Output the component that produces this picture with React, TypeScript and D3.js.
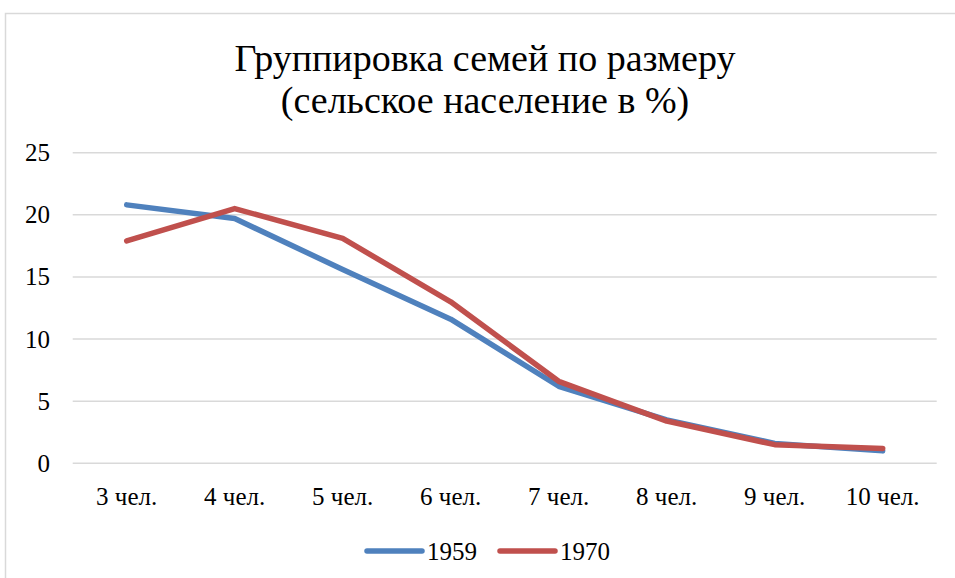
import React, { useEffect, useRef } from "react";
import * as d3 from "d3";

// ── Данные ─────────────────────────────────────────────────────────────
const categories = ["3 чел.", "4 чел.", "5 чел.", "6 чел.", "7 чел.", "8 чел.", "9 чел.", "10 чел."];
const values1959 = [20.8, 19.7, 15.6, 11.6, 6.2, 3.5, 1.6, 1.0];
const values1970 = [17.9, 20.5, 18.1, 13.0, 6.6, 3.4, 1.5, 1.2];
const yTicks = [0, 5, 10, 15, 20, 25];
const titleLines = ["Группировка семей по размеру", "(сельское население в %)"];

const series = [
    { name: "1959", values: values1959, color: "#4f81bd" },
    { name: "1970", values: values1970, color: "#c0504d" },
];

const FONT = "'Times New Roman', 'Liberation Serif', Times, serif";

const App: React.FC = () => {
    const svgRef = useRef<SVGSVGElement | null>(null);

    useEffect(() => {
        if (!svgRef.current) return;

        const WIDTH = 955;
        const HEIGHT = 578;
        const plot = { left: 72.7, right: 936.7, top: 152.7, bottom: 463.3 };

        const svg = d3.select(svgRef.current);
        svg.selectAll("*").remove();
        svg.attr("width", WIDTH).attr("height", HEIGHT).attr("viewBox", `0 0 ${WIDTH} ${HEIGHT}`)
            .style("font-family", FONT);

        svg.append("rect").attr("width", WIDTH).attr("height", HEIGHT).attr("fill", "#fff");

        // рамка области диаграммы (правый и нижний край обрезаны)
        svg.append("rect")
            .attr("x", 5.5).attr("y", 13.5)
            .attr("width", WIDTH + 20).attr("height", HEIGHT + 20)
            .attr("fill", "none").attr("stroke", "#d9d9d9").attr("stroke-width", 1.5);

        // ── Заголовок ──────────────────────────────────────────────────────
        svg.append("text")
            .attr("x", 485).attr("y", 71)
            .attr("text-anchor", "middle")
            .style("font-size", "38px").attr("fill", "#000")
            .selectAll("tspan")
            .data(titleLines)
            .enter()
            .append("tspan")
            .attr("x", 485)
            .attr("dy", (_d, i) => (i === 0 ? 0 : 42))
            .text((d) => d);

        // ── Шкалы ──────────────────────────────────────────────────────────
        const x = d3.scalePoint<string>().domain(categories).range([plot.left, plot.right]).padding(0.5);
        const y = d3.scaleLinear().domain([0, 25]).range([plot.bottom, plot.top]);

        // ── Сетка ──────────────────────────────────────────────────────────
        svg.append("g")
            .selectAll("line")
            .data(yTicks)
            .enter()
            .append("line")
            .attr("x1", plot.left).attr("x2", plot.right)
            .attr("y1", (d) => y(d)).attr("y2", (d) => y(d))
            .attr("stroke", "#d9d9d9").attr("stroke-width", 1.5);

        // ── Подписи осей ───────────────────────────────────────────────────
        svg.append("g")
            .selectAll("text")
            .data(yTicks)
            .enter()
            .append("text")
            .attr("x", 50).attr("y", (d) => y(d) + 8.5)
            .attr("text-anchor", "end")
            .style("font-size", "25px").attr("fill", "#000")
            .text((d) => d);

        svg.append("g")
            .selectAll("text")
            .data(categories)
            .enter()
            .append("text")
            .attr("x", (d) => x(d) as number).attr("y", 505)
            .attr("text-anchor", "middle")
            .style("font-size", "25px").attr("fill", "#000")
            .text((d) => d);

        // ── Линии ──────────────────────────────────────────────────────────
        const line = d3.line<number>()
            .x((_d, i) => x(categories[i]) as number)
            .y((d) => y(d));

        series.forEach((s) => {
            svg.append("path")
                .datum(s.values)
                .attr("fill", "none")
                .attr("stroke", s.color)
                .attr("stroke-width", 5.5)
                .attr("stroke-linecap", "round")
                .attr("stroke-linejoin", "round")
                .attr("d", line);
        });

        // ── Легенда ────────────────────────────────────────────────────────
        const legendX = [367, 500];
        const legend = svg.append("g")
            .selectAll("g")
            .data(series)
            .enter()
            .append("g")
            .attr("transform", (_d, i) => `translate(${legendX[i]},551)`);

        legend.append("line")
            .attr("x1", 0).attr("x2", 55)
            .attr("stroke", (d) => d.color)
            .attr("stroke-width", 5.5)
            .attr("stroke-linecap", "round");

        legend.append("text")
            .attr("x", 60).attr("y", 9)
            .style("font-size", "25px").attr("fill", "#000")
            .text((d) => d.name);
    }, []);

    return (
        <svg
            ref={svgRef}
            style={{ position: "absolute", left: 0, top: 0, display: "block" }}
        />
    );
};

export default App;
